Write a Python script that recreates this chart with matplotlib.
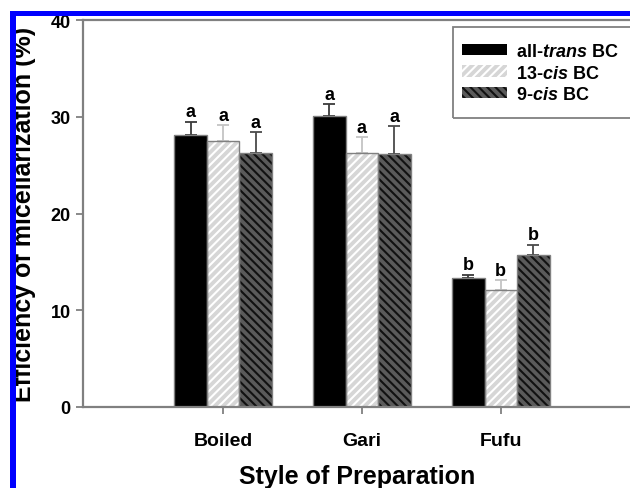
import matplotlib
matplotlib.use("Agg")
import matplotlib.pyplot as plt
from matplotlib.patches import Rectangle, Patch
import numpy as np

plt.rcParams['font.family'] = ['Liberation Sans', 'DejaVu Sans']
plt.rcParams['font.weight'] = 'bold'
plt.rcParams['mathtext.fontset'] = 'custom'
plt.rcParams['mathtext.it'] = 'Liberation Sans:bold:italic'
plt.rcParams['mathtext.rm'] = 'Liberation Sans:bold'
plt.rcParams['hatch.linewidth'] = 1.5

# ---- data ----
categories = ["Boiled", "Gari", "Fufu"]
series_names = [r"all-$\mathit{trans}$ BC", r"13-$\mathit{cis}$ BC", r"9-$\mathit{cis}$ BC"]
all_trans = [28.1, 30.1, 13.3]
all_trans_err = [1.4, 1.2, 0.35]
cis13 = [27.5, 26.3, 12.1]
cis13_err = [1.6, 1.6, 1.0]
cis9 = [26.25, 26.2, 15.7]
cis9_err = [2.15, 2.8, 1.05]
letters = [["a", "a", "b"], ["a", "a", "b"], ["a", "a", "b"]]
yticks = [0, 10, 20, 30, 40]

W, H = 630, 489
fig = plt.figure(figsize=(W / 100, H / 100), dpi=100)
ax_l, ax_r, ax_t, ax_b = 83, 632, 21, 408
ax = fig.add_axes([ax_l / W, 1 - ax_b / H, (ax_r - ax_l) / W, (ax_b - ax_t) / H])

x = np.arange(len(categories))
bw = 0.234
offsets = [-bw, 0, bw]
vals = [all_trans, cis13, cis9]
errs = [all_trans_err, cis13_err, cis9_err]
faces = ['#000000', '#d6d6d6', '#5a5a5a']
hatches = [None, '////', '\\\\\\\\']
hatch_cols = ['#000000', '#ffffff', '#111111']
err_cols = ['#3a3a3a', '#c4c4c4', '#4a4a4a']
edge = '#808080'

for i in range(3):
    xi = x + offsets[i]
    ax.errorbar(xi, vals[i], yerr=[np.zeros(3), errs[i]], fmt='none',
                ecolor=err_cols[i], elinewidth=1.3, capsize=4.5, capthick=1.3, zorder=1)
    ax.bar(xi, vals[i], width=bw, color=faces[i], hatch=hatches[i],
           edgecolor=hatch_cols[i], linewidth=0, zorder=2)
    ax.bar(xi, vals[i], width=bw, facecolor='none', edgecolor=edge,
           linewidth=1.0, zorder=3)
    for j in range(3):
        ax.annotate(letters[i][j], (xi[j], vals[i][j] + errs[i][j]),
                    xytext=(0, 4), textcoords='offset points', ha='center',
                    va='baseline', fontsize=13, fontweight='bold', zorder=4)

ax.set_xlim(-1.009, 2.945)
ax.set_ylim(0, 40)
ax.set_yticks(yticks)
ax.set_xticks(x)
ax.set_xticklabels(categories, fontsize=14, fontweight='bold')
ax.tick_params(axis='y', labelsize=13, length=5, width=1.3, color=edge, pad=4)
ax.tick_params(axis='x', length=5, width=1.3, color=edge, pad=13)
for lab in ax.get_yticklabels():
    lab.set_fontweight('bold')
for s in ['left', 'bottom', 'top']:
    ax.spines[s].set_color(edge)
    ax.spines[s].set_linewidth(1.6)
ax.spines['right'].set_visible(False)

ax.set_xlabel("Style of Preparation", fontsize=18, fontweight='bold', labelpad=11)
fig.text(24 / W, 1 - 214.5 / H, "Efficiency of micellarization (%)", rotation=90,
         ha='center', va='center', fontsize=18, fontweight='bold')

# legend
handles = [Patch(facecolor=faces[i], hatch=hatches[i], edgecolor=hatch_cols[i], linewidth=0)
           for i in range(3)]
fig.legend(handles, series_names, loc='upper left', bbox_to_anchor=(462 / W, 1 - 44 / H),
           frameon=False, fontsize=13, borderpad=0, borderaxespad=0,
           handlelength=2.5, handleheight=0.6, handletextpad=0.5, labelspacing=0.25)
fig.patches.append(Rectangle((453 / W, 1 - 119 / H), (640 - 453) / W, (119 - 28) / H,
                             transform=fig.transFigure, facecolor='none', edgecolor=edge,
                             linewidth=1.3, zorder=5))

# blue frame from the cropped source
fig.patches.append(Rectangle((10 / W, 1 - 17 / H), (W - 10) / W, 5 / H,
                             transform=fig.transFigure, facecolor='#0000ff',
                             edgecolor='none', zorder=10))
fig.patches.append(Rectangle((10 / W, 0), 6 / W, 1 - 12 / H,
                             transform=fig.transFigure, facecolor='#0000ff',
                             edgecolor='none', zorder=10))

fig.savefig("out.png", dpi=100)
